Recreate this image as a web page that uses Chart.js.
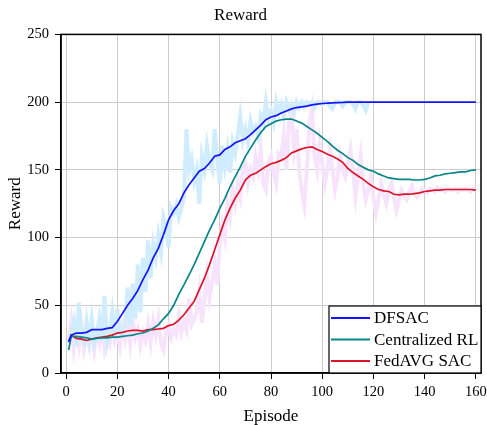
<!DOCTYPE html>
<html lang="en">
  <head>
    <meta charset="utf-8">
    <title>Reward</title>
    <script src="https://cdn.jsdelivr.net/npm/chart.js@4.4.0/dist/chart.umd.min.js"></script>
    <style>
      html, body { margin: 0; padding: 0; background: #fff; }
      #wrap { width: 487px; height: 425px; }
    </style>
  </head>
  <body>
    <div id="wrap"><canvas id="chart"></canvas></div>
    <script>
      // smoothed curves, sampled at these episodes
      const episodes = [1, 2, 4, 6, 8, 10, 12, 14, 16, 18, 20, 22, 24, 26, 28, 30, 32, 34, 36, 38,
        40, 42, 44, 46, 48, 50, 52, 54, 56, 58, 60, 62, 64, 66, 68, 70, 72, 74, 76, 78,
        80, 82, 84, 86, 88, 90, 92, 94, 96, 98, 100, 102, 104, 106, 108, 110, 112, 114, 116, 118,
        120, 122, 124, 126, 128, 130, 132, 134, 136, 138, 140, 142, 144, 146, 148, 150, 152, 154, 156, 158, 160];

      const dfsac = [23, 28, 29.5, 29.5, 30, 32, 32, 32, 33, 33.5, 38, 44, 50, 55, 61, 69, 76, 85, 92, 102,
        113, 120, 125, 133, 139, 144, 149, 151, 155, 160, 161, 165, 167, 170, 171.5, 173, 176, 179.5, 183, 187,
        189, 190, 192, 193.5, 195, 196, 196.5, 197, 198, 198.5, 199, 199.2, 199.5, 199.7, 199.8, 200, 200, 200, 200, 200,
        200, 200, 200, 200, 200, 200, 200, 200, 200, 200, 200, 200, 200, 200, 200, 200, 200, 200, 200, 200, 200];

      const centralized = [17, 27, 27, 26.5, 26, 25, 25.5, 26, 26, 26.5, 26.5, 27, 27.5, 28, 29, 29.5, 31, 33, 35.5, 40,
        44, 50, 58, 65, 72.5, 80, 88.5, 97, 105.5, 113, 121.5, 129, 137.5, 145, 152, 160, 166, 172, 177.5, 182,
        184, 186, 187, 187.5, 187.5, 186, 184.5, 182, 179.5, 177, 174, 171, 167.5, 164.5, 162, 159, 157, 154, 152, 150,
        149, 147, 145.5, 144, 143.5, 143, 143, 143, 142.5, 142.5, 143, 144, 145.5, 146, 147, 147.5, 148, 148.5, 148.5, 149.5, 150];

      const fedavg = [23, 28, 25.5, 25, 24, 25, 26, 26.5, 27, 28, 29.5, 30, 31, 31.5, 31.5, 31, 32, 32, 32.5, 33,
        35, 36, 39, 43, 48, 53, 61.5, 70, 80, 91, 102, 113, 121.5, 129, 135, 142.5, 146, 147.5, 150, 152.5,
        154.5, 155.5, 157, 159, 162.5, 164, 165.5, 166.5, 167, 165, 163.5, 161.5, 160, 158, 155.5, 151, 148, 145.5, 143, 140,
        137.5, 135.5, 134.5, 134, 132, 131.5, 132, 132, 132.5, 133, 134, 134.5, 135, 135, 135.5, 135.5, 135.5, 135.5, 135.5, 135.5, 135];

      // raw (unsmoothed) rewards, one value per episode starting at episode 1
      const dfsacRaw = [22, 30, 38, 20, 52, 25, 22, 38, 24, 40,
        22, 28, 40, 24, 57, 22, 30, 45, 25, 47,
        30, 28, 35, 63, 35, 66, 40, 80, 45, 85,
        60, 98, 70, 95, 85, 102, 90, 115, 108, 93,
        122, 118, 124, 115, 122, 130, 180, 150, 158, 142,
        150, 125, 160, 150, 168, 155, 150, 180, 158, 140,
        168, 152, 165, 148, 170, 162, 175, 190, 172, 180,
        170, 186, 178, 182, 175, 190, 185, 200, 188, 193,
        185, 200, 192, 198, 190, 200, 194, 198, 192, 200,
        196, 200, 197, 200, 199, 200, 196, 200, 200, 198,
        200, 200, 197, 195, 200, 200, 200, 197, 200, 200,
        200, 199, 195, 200, 200, 198, 194, 200];

      const fedavgRaw = [22, 38, 18, 30, 20, 35, 18, 28, 20, 32,
        17, 30, 22, 35, 18, 28, 22, 38, 24, 30,
        20, 34, 25, 38, 22, 40, 26, 32, 20, 30,
        24, 36, 22, 38, 28, 40, 22, 17, 30, 35,
        26, 32, 28, 42, 30, 38, 32, 55, 36, 40,
        45, 60, 37, 55, 72, 55, 68, 80, 65, 95,
        110, 100, 125, 115, 135, 125, 140, 130, 150, 155,
        140, 150, 145, 160, 150, 165, 140, 135, 155, 160,
        148, 140, 162, 160, 175, 150, 185, 190, 165, 180,
        150, 135, 124, 150, 185, 195, 160, 150, 170, 155,
        140, 150, 165, 150, 135, 145, 160, 150, 145, 155,
        165, 150, 130, 145, 160, 140, 128, 135, 145, 130,
        118, 128, 140, 132, 125, 135, 140, 130, 120, 128,
        135, 130, 128, 134, 138, 132, 130, 133, 136, 134,
        133, 136, 135, 134, 137, 135, 136, 134, 136, 135,
        135, 136, 134, 136, 135, 136, 135, 134, 136, 135];

      const xTicks = [0, 20, 40, 60, 80, 100, 120, 140, 160];
      const yTicks = [0, 50, 100, 150, 200, 250];

      const serif = 'Liberation Serif';

      const pts = (xs, ys) => ys.map((v, i) => ({ x: xs[i], y: v }));
      const rawPts = ys => ys.map((v, i) => ({ x: i + 1, y: v }));

      // frame on top and right + legend box inside plot area
      const framePlugin = {
        id: 'frame',
        afterDraw(chart) {
          const { ctx, chartArea: a } = chart;
          ctx.save();
          ctx.strokeStyle = '#000';
          ctx.lineWidth = 1.5;
          ctx.strokeRect(a.left, a.top, a.right - a.left, a.bottom - a.top);

          const w = 152, h = 67;
          const bx = a.right - w, by = a.bottom - h;
          ctx.fillStyle = '#fff';
          ctx.fillRect(bx, by, w, h);
          ctx.lineWidth = 1.2;
          ctx.strokeRect(bx, by, w, h);
          ctx.font = '17px "' + serif + '"';
          ctx.textBaseline = 'middle';
          const items = chart.data.datasets.filter(d => d.showInLegend);
          items.forEach((d, i) => {
            const y = by + 12 + i * 21.5;
            ctx.strokeStyle = d.borderColor;
            ctx.lineWidth = 1.8;
            ctx.beginPath();
            ctx.moveTo(bx + 2, y);
            ctx.lineTo(bx + 41, y);
            ctx.stroke();
            ctx.fillStyle = '#000';
            ctx.fillText(d.label, bx + 45, y + 1);
          });
          ctx.restore();
        }
      };

      const ctx = document.getElementById('chart').getContext('2d');
      new Chart(ctx, {
        type: 'line',
        data: {
          datasets: [
            { label: 'DFSAC', data: pts(episodes, dfsac), borderColor: '#1414ff', borderWidth: 1.7, showInLegend: true },
            { label: 'Centralized RL', data: pts(episodes, centralized), borderColor: '#0a8585', borderWidth: 1.7, showInLegend: true },
            { label: 'FedAVG SAC', data: pts(episodes, fedavg), borderColor: '#dc1428', borderWidth: 1.7, showInLegend: true },
            { label: 'DFSAC raw', data: rawPts(dfsacRaw), borderColor: 'rgb(208,236,255)', borderWidth: 4 },
            { label: 'FedAVG raw', data: rawPts(fedavgRaw), borderColor: 'rgb(247,228,252)', borderWidth: 4 }
          ]
        },
        options: {
          responsive: true,
          maintainAspectRatio: false,
          animation: false,
          elements: { point: { radius: 0 }, line: { tension: 0, fill: false } },
          layout: { padding: { left: 0, right: 6, top: 0, bottom: 0 } },
          plugins: {
            legend: { display: false },
            tooltip: { enabled: false },
            title: {
              display: true,
              text: 'Reward',
              color: '#000',
              font: { family: serif, size: 17, weight: 'normal' },
              padding: { top: 5, bottom: 9 }
            }
          },
          scales: {
            x: {
              type: 'linear',
              min: -2,
              max: 162,
              afterBuildTicks: s => { s.ticks = xTicks.map(v => ({ value: v })); },
              afterFit: s => { s.height = 52; s.paddingLeft = 0; s.paddingRight = 0; },
              grid: { color: 'rgb(205,205,205)', lineWidth: 1, tickColor: '#000', tickLength: 6 },
              border: { color: '#000', width: 1.5 },
              ticks: { color: '#000', font: { family: serif, size: 14.5 }, padding: 4, maxRotation: 0 },
              title: { display: true, text: 'Episode', color: '#000', font: { family: serif, size: 17 }, padding: { top: 0, bottom: -2 } }
            },
            y: {
              min: 0,
              max: 250,
              afterBuildTicks: s => { s.ticks = yTicks.map(v => ({ value: v })); },
              afterFit: s => { s.width = 61; },
              grid: { color: 'rgb(205,205,205)', lineWidth: 1, tickColor: '#000', tickLength: 6 },
              border: { color: '#000', width: 1.5 },
              ticks: { color: '#000', font: { family: serif, size: 14.5 }, padding: 6 },
              title: { display: true, text: 'Reward', color: '#000', font: { family: serif, size: 17 }, padding: { top: 5, bottom: 0 } }
            }
          }
        },
        plugins: [framePlugin]
      });
    </script>
  </body>
</html>
